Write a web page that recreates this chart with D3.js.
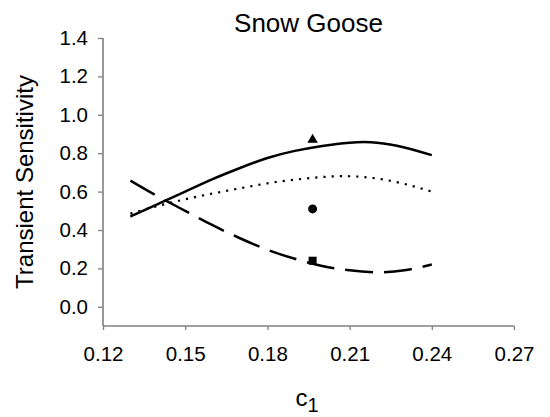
<!DOCTYPE html>
<html>
<head>
<meta charset="utf-8">
<script src="https://cdn.jsdelivr.net/npm/d3@7"></script>
<style>
  html, body { margin: 0; padding: 0; background: #fff; }
  svg { display: block; }
  text { font-family: "Liberation Sans", Arial, sans-serif; fill: #000; }
</style>
</head>
<body>
<svg id="chart" width="550" height="417"></svg>
<script>
// c1 values at which the sensitivity curves are evaluated
const c1Values = [0.13, 0.14, 0.15, 0.16, 0.17, 0.18, 0.19, 0.20, 0.21, 0.22, 0.23, 0.24];

// Transient sensitivity curves
const solidSeries  = [0.47, 0.535, 0.60, 0.665, 0.723, 0.775, 0.812, 0.838, 0.855, 0.855, 0.83, 0.79];
const dottedSeries = [0.485, 0.525, 0.56, 0.59, 0.617, 0.643, 0.662, 0.676, 0.68, 0.668, 0.64, 0.60];
const dashedSeries = [0.657, 0.575, 0.50, 0.425, 0.357, 0.297, 0.25, 0.213, 0.19, 0.18, 0.19, 0.22];

// Point estimates at the observed c1
const pointC1 = 0.1965;
const pointTriangle = 0.87;
const pointCircle = 0.51;
const pointSquare = 0.24;

// Axis ticks
const xTicks = [0.12, 0.15, 0.18, 0.21, 0.24, 0.27];
const yTicks = [0.0, 0.2, 0.4, 0.6, 0.8, 1.0, 1.2, 1.4];

const svg = d3.select("#chart");

const plotLeft = 103, plotRight = 514, plotTop = 38, plotBottom = 326;

const x = d3.scaleLinear().domain([0.12, 0.27]).range([plotLeft, plotRight]);
const y = d3.scaleLinear().domain([-0.1, 1.4]).range([plotBottom, plotTop]);

const axisColor = "#808080";

// y axis
const yAxis = svg.append("g")
  .attr("transform", `translate(${plotLeft},0)`)
  .call(d3.axisLeft(y).tickValues(yTicks).tickFormat(d3.format(".1f")).tickSize(5).tickPadding(10).tickSizeOuter(0));
// x axis
const xAxis = svg.append("g")
  .attr("transform", `translate(0,${plotBottom})`)
  .call(d3.axisBottom(x).tickValues(xTicks).tickFormat(d3.format(".2f")).tickSize(4).tickPadding(16).tickSizeOuter(0));

[yAxis, xAxis].forEach(g => {
  g.select(".domain").attr("stroke", axisColor).attr("stroke-width", 1.6);
  g.selectAll(".tick line").attr("stroke", axisColor).attr("stroke-width", 1.3);
  g.selectAll(".tick text")
    .style("font-family", '"Liberation Sans", Arial, sans-serif')
    .style("font-size", "20.5px")
    .attr("fill", "#000");
});
// y axis line runs from the top tick down to the x axis
yAxis.select(".domain").attr("d", `M0,${y(1.4)}V${plotBottom}`);
xAxis.select(".domain").attr("d", `M${plotLeft},0H${plotRight}`);

// curves
const line = vals => d3.line()
  .x((d, i) => x(c1Values[i]))
  .y(d => y(d))
  .curve(d3.curveNatural)(vals);

svg.append("path").attr("d", line(solidSeries))
  .attr("fill", "none").attr("stroke", "#000").attr("stroke-width", 2.5);
svg.append("path").attr("d", line(dottedSeries))
  .attr("fill", "none").attr("stroke", "#000").attr("stroke-width", 2.2)
  .attr("stroke-dasharray", "2.2,6");
svg.append("path").attr("d", line(dashedSeries))
  .attr("fill", "none").attr("stroke", "#000").attr("stroke-width", 2.5)
  .attr("stroke-dasharray", "28,11");

// point markers
const px = x(pointC1);
svg.append("path")
  .attr("d", d3.symbol().type(d3.symbolTriangle).size(48)())
  .attr("transform", `translate(${px},${y(pointTriangle)})`)
  .attr("fill", "#000");
svg.append("circle")
  .attr("cx", px).attr("cy", y(pointCircle)).attr("r", 4.5)
  .attr("fill", "#000");
svg.append("rect")
  .attr("x", px - 4).attr("y", y(pointSquare) - 4)
  .attr("width", 8).attr("height", 8)
  .attr("fill", "#000");

// title
svg.append("text")
  .attr("x", (plotLeft + plotRight) / 2).attr("y", 32)
  .attr("text-anchor", "middle")
  .style("font-size", "26px")
  .text("Snow Goose");

// y axis title
svg.append("text")
  .attr("transform", `translate(33,${(plotTop + plotBottom) / 2}) rotate(-90)`)
  .attr("text-anchor", "middle")
  .style("font-size", "24px")
  .text("Transient Sensitivity");

// x axis title: c with subscript 1
const xt = svg.append("text")
  .attr("x", 307).attr("y", 406)
  .attr("text-anchor", "middle");
xt.append("tspan").style("font-size", "24px").text("c");
xt.append("tspan").style("font-size", "20px").attr("dy", 6).text("1");
</script>
</body>
</html>
